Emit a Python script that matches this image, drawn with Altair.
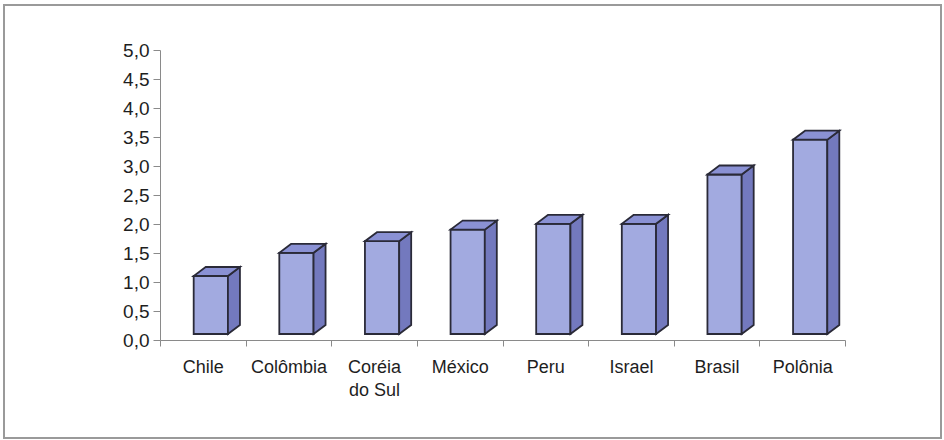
import altair as alt
import pandas as pd

# ---- data ----
categories = ["Chile", "Colômbia", "Coréia do Sul", "México", "Peru", "Israel", "Brasil", "Polônia"]
label_lines = [["Chile"], ["Colômbia"], ["Coréia", "do Sul"], ["México"], ["Peru"],
               ["Israel"], ["Brasil"], ["Polônia"]]
values = [1.0, 1.4, 1.6, 1.8, 1.9, 1.9, 2.75, 3.35]
y_ticks = [0.0, 0.5, 1.0, 1.5, 2.0, 2.5, 3.0, 3.5, 4.0, 4.5, 5.0]

# ---- layout / style ----
PLOT_W, PLOT_H = 685, 290
BAND_PX = PLOT_W / len(categories)
Y_PX = PLOT_H / 5.0
HALF = 0.2                 # half width of the front face (in category units)
DDX = 12 / BAND_PX         # depth of the 3D box, x (category units)
DDY = 9 / Y_PX             # depth of the 3D box, y (value units)
OFF = dict(xOffset=8, x2Offset=8, yOffset=-6, y2Offset=-6)

FRONT = "#A2AAE0"
SIDE = "#7379BE"
TOP = "#8A91D4"
EDGE = "#2a2a38"
FONT = "Liberation Sans"

front_rows, side_rows, top_rows = [], [], []
for i, (c, v) in enumerate(zip(categories, values)):
    front_rows.append({"cat": c, "x": i - HALF, "x2": i + HALF, "y": 0.0, "y2": v})
    side_rows.append({"cat": c, "x": i + HALF, "y": 0.0, "y2": v})
    side_rows.append({"cat": c, "x": i + HALF + DDX, "y": DDY, "y2": v + DDY})
    top_rows.append({"cat": c, "y": v, "x": i - HALF, "x2": i + HALF})
    top_rows.append({"cat": c, "y": v + DDY, "x": i - HALF + DDX, "x2": i + HALF + DDX})

front_df = pd.DataFrame(front_rows)
side_df = pd.DataFrame(side_rows)
top_df = pd.DataFrame(top_rows)


def xs():
    return alt.Scale(domain=[-0.5, len(categories) - 0.5], nice=False, zero=False)


def ys():
    return alt.Scale(domain=[0, 5], nice=False, zero=False)


lab_js = "[" + ",".join(
    "[" + ",".join("'" + s + "'" for s in lines) + "]" for lines in label_lines) + "]"


def x_axis():
    return alt.Axis(
        values=[k - 0.5 for k in range(len(categories) + 1)],
        labelExpr=f"datum.value < {len(categories) - 1} ? {lab_js}[round(datum.value + 0.5)] : ''",
        labelOffset=BAND_PX / 2,
        labelFlush=False,
        labelOverlap=False,
        labelFont=FONT,
        labelFontSize=18,
        labelColor="#1e1e1e",
        labelLineHeight=23,
        labelPadding=12,
        labelBaseline="top",
        tickSize=6,
        tickColor="#8a8a8a",
        domainColor="#8a8a8a",
        grid=False,
        title="",
    )


def y_axis():
    return alt.Axis(
        values=y_ticks,
        labelExpr="replace(format(datum.value, '.1f'), '.', ',')",
        labelOverlap=False,
        labelFlush=False,
        labelFont=FONT,
        labelFontSize=19,
        labelColor="#1e1e1e",
        labelPadding=4,
        tickSize=7,
        tickColor="#8a8a8a",
        domainColor="#8a8a8a",
        grid=False,
        title="",
    )


border = alt.Chart(alt.Data(values=[{"k": 1}])).mark_rect(
    fill="transparent", stroke="#9a9a9a", strokeWidth=2
).encode(
    x=alt.value(-156), x2=alt.value(PLOT_W + 96),
    y=alt.value(-45), y2=alt.value(PLOT_H + 98),
)

front = alt.Chart(front_df).mark_rect(
    fill=FRONT, stroke=EDGE, strokeWidth=1.8, **OFF
).encode(
    x=alt.X("x:Q", scale=xs(), axis=x_axis()),
    x2="x2:Q",
    y=alt.Y("y:Q", scale=ys(), axis=y_axis()),
    y2="y2:Q",
)

side = alt.Chart(side_df).mark_area(
    orient="vertical", fill=SIDE, stroke=EDGE, strokeWidth=1.8, strokeJoin="miter", **OFF
).encode(
    x=alt.X("x:Q", scale=xs(), axis=x_axis()),
    y=alt.Y("y:Q", scale=ys(), stack=False, axis=y_axis()),
    y2="y2:Q",
    detail="cat:N",
)

top = alt.Chart(top_df).mark_area(
    orient="horizontal", fill=TOP, stroke=EDGE, strokeWidth=1.8, strokeJoin="miter", **OFF
).encode(
    y=alt.Y("y:Q", scale=ys(), axis=y_axis()),
    x=alt.X("x:Q", scale=xs(), stack=False, axis=x_axis()),
    x2="x2:Q",
    detail="cat:N",
)

chart = alt.layer(front, side, top, border).properties(
    width=PLOT_W,
    height=PLOT_H,
    autosize=alt.AutoSizeParams(type="none"),
    padding={"left": 160, "top": 50, "right": 99, "bottom": 100},
    background="white",
).configure_view(strokeWidth=0)

chart.save("out.html", embed_options={"renderer": "svg", "actions": False})
